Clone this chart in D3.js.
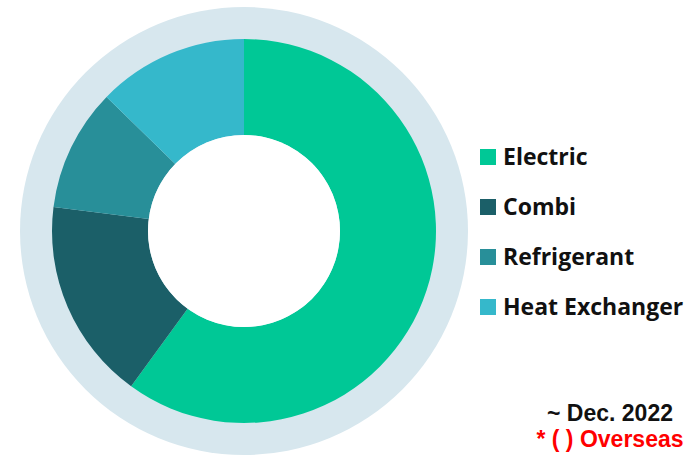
<!DOCTYPE html>
<html>
<head>
<meta charset="utf-8">
<script src="https://cdn.jsdelivr.net/npm/d3@7"></script>
<style>
  body { margin: 0; background: #fff; }
  svg { display: block; font-family: "Open Sans", sans-serif; font-weight: bold; }
  .note { font-family: "Liberation Sans", Arial, sans-serif; }
</style>
</head>
<body>
<svg id="chart" width="695" height="456"></svg>
<script>
// Data
const categories = ["Electric", "Combi", "Refrigerant", "Heat Exchanger"];
const values = [60, 17, 10.3, 12.7];
const colors = ["#00C896", "#1B5F68", "#288F99", "#35B8CB"];
const notes = ["~ Dec. 2022", "* ( ) Overseas"];

const svg = d3.select("#chart");
const cx = 244, cy = 231;

// Background ring
svg.append("circle")
  .attr("cx", cx).attr("cy", cy).attr("r", 224)
  .attr("fill", "#D7E7EE");

// Donut
const ctr = svg.append("g").attr("transform", `translate(${cx}, ${cy})`);
const pie = d3.pie().sort(null).value((d) => d);
const arc = d3.arc().innerRadius(96).outerRadius(192);

ctr.selectAll("path")
  .data(pie(values))
  .join("path")
  .attr("d", arc)
  .attr("fill", (d, i) => colors[i]);

ctr.append("circle").attr("r", 96).attr("fill", "#fff");

// Legend
const legendY = d3.scalePoint().domain(categories).range([157, 307]);
const legend = svg.append("g");
const item = legend.selectAll("g")
  .data(categories)
  .join("g")
  .attr("transform", (d) => `translate(480, ${legendY(d)})`);

item.append("rect")
  .attr("x", 0).attr("y", -8)
  .attr("width", 16).attr("height", 16)
  .attr("fill", (d, i) => colors[i]);

item.append("text")
  .attr("x", 23).attr("y", 8)
  .attr("font-size", 23)
  .attr("fill", "#111")
  .text((d) => d);

// Notes
svg.append("text")
  .attr("class", "note")
  .attr("x", 610).attr("y", 421)
  .attr("text-anchor", "middle")
  .attr("font-size", 23)
  .attr("fill", "#111")
  .text(notes[0]);

svg.append("text")
  .attr("class", "note")
  .attr("x", 610).attr("y", 447)
  .attr("text-anchor", "middle")
  .attr("font-size", 23)
  .attr("fill", "#FF0000")
  .text(notes[1]);
</script>
</body>
</html>
